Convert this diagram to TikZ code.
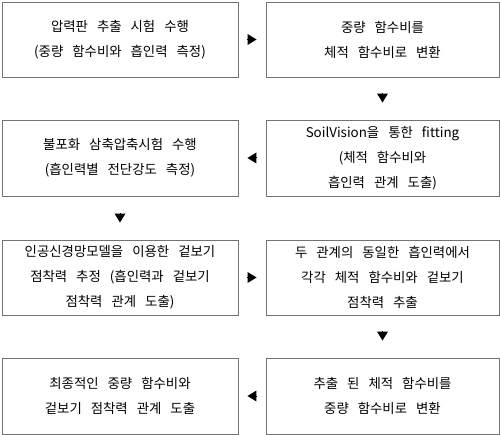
\documentclass[tikz,border=0pt]{standalone}
\usepackage{fontspec}
\newfontfamily\kr[WordSpace=3]{Noto Sans CJK KR}
\usepackage{tikz}
\usetikzlibrary{arrows.meta}

\begin{document}
\begin{tikzpicture}[x=1pt,y=-1pt]
	\tikzstyle{stepbox}=[rectangle,draw=black!55,line width=0.9pt,align=center,inner sep=0pt,font=\kr\fontsize{13.4}{25}\selectfont]
	\tikzstyle{wide}=[minimum width=236pt]
	\tikzstyle{narrow}=[minimum width=233pt]
	\tikzstyle{tip}=[-{Triangle[width=11pt,length=9pt]},line width=0pt]
	\useasboundingbox (0,0) rectangle (500,435);
	\node[stepbox,wide,minimum height=75pt] (1) at (120,39.5) {압력판 추출 시험 수행\\(중량 함수비와 흡인력 측정)};
	\node[stepbox,narrow,minimum height=75pt] (2) at (382.5,39.5) {중량 함수비를\\체적 함수비로 변환};
	\node[stepbox,narrow,minimum height=76pt] (3) at (382.5,158) {SoilVision을 통한 fitting\\(체적 함수비와\\흡인력 관계 도출)};
	\node[stepbox,wide,minimum height=76pt] (4) at (120,158) {불포화 삼축압축시험 수행\\(흡인력별 전단강도 측정)};
	\node[stepbox,wide,minimum height=75pt] (5) at (120,277.5) {인공신경망모델을 이용한 겉보기\\점착력 추정 (흡인력과 겉보기\\점착력 관계 도출)};
	\node[stepbox,narrow,minimum height=75pt] (6) at (382.5,277.5) {두 관계의 동일한 흡인력에서\\각각 체적 함수비와 겉보기\\점착력 추출};
	\node[stepbox,narrow,minimum height=76pt] (7) at (382.5,396) {추출 된 체적 함수비를\\중량 함수비로 변환};
	\node[stepbox,wide,minimum height=76pt] (8) at (120,396) {최종적인 중량 함수비와\\겉보기 점착력 관계 도출};
	\draw[tip,shorten <=10pt,shorten >=9pt] (1.east) -- (2.west);
	\draw[tip,shorten <=17pt,shorten >=17pt] (2.south) -- (3.north);
	\draw[tip,shorten <=10pt,shorten >=9pt] (3.west) -- (4.east);
	\draw[tip,shorten <=17pt,shorten >=17pt] (4.south) -- (5.north);
	\draw[tip,shorten <=10pt,shorten >=9pt] (5.east) -- (6.west);
	\draw[tip,shorten <=17pt,shorten >=17pt] (6.south) -- (7.north);
	\draw[tip,shorten <=10pt,shorten >=9pt] (7.west) -- (8.east);
\end{tikzpicture}
\end{document}
